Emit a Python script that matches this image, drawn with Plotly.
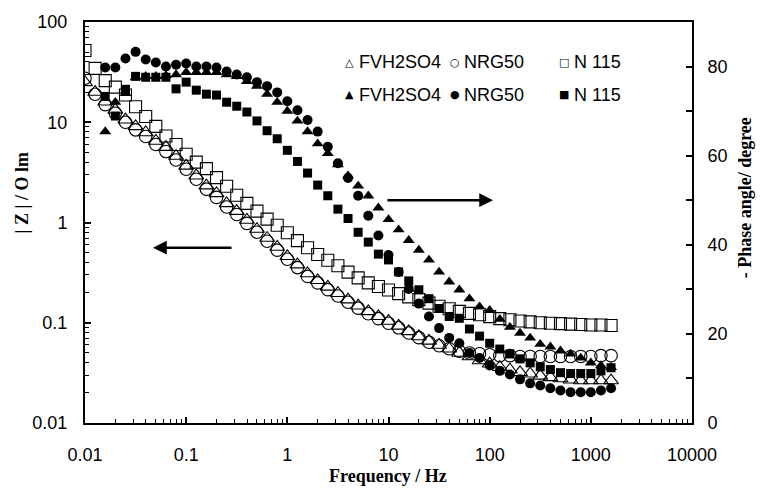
import plotly.graph_objects as go

# ---------------- data ----------------
freq = [0.01, 0.01259, 0.01585, 0.01995, 0.02512, 0.03162, 0.03981, 0.05012, 0.0631, 0.07943,
        0.1, 0.1259, 0.1585, 0.1995, 0.2512, 0.3162, 0.3981, 0.5012, 0.631, 0.7943,
        1.0, 1.259, 1.585, 1.995, 2.512, 3.162, 3.981, 5.012, 6.31, 7.943,
        10, 12.59, 15.85, 19.95, 25.12, 31.62, 39.81, 50.12, 63.1, 79.43,
        100, 125.9, 158.5, 199.5, 251.2, 316.2, 398.1, 501.2, 631.0, 794.3,
        1000, 1259, 1585]

zmod_fvh = [25, 20, 16, 13.3, 10.6, 9.1, 7.9, 6.5, 5.65, 4.6,
            3.67, 2.93, 2.33, 1.95, 1.55, 1.3, 1.06, 0.86, 0.7, 0.57,
            0.46, 0.38, 0.31, 0.265, 0.228, 0.197, 0.17, 0.148, 0.13, 0.116,
            0.104, 0.093, 0.082, 0.073, 0.066, 0.06, 0.055, 0.05, 0.046, 0.042,
            0.039, 0.036, 0.034, 0.032, 0.031, 0.0295, 0.0285, 0.0278, 0.027, 0.0265,
            0.0265, 0.0265, 0.0265]

zmod_nrg = [27.5, 19, 15, 12.3, 10, 8.4, 7.2, 6.0, 5.1, 4.2,
            3.4, 2.7, 2.15, 1.78, 1.43, 1.2, 0.98, 0.8, 0.65, 0.53,
            0.43, 0.355, 0.29, 0.25, 0.214, 0.185, 0.16, 0.14, 0.123, 0.11,
            0.099, 0.089, 0.079, 0.071, 0.064, 0.059, 0.055, 0.052, 0.05, 0.049,
            0.048, 0.047, 0.047, 0.046, 0.046, 0.046, 0.046, 0.046, 0.046, 0.046,
            0.046, 0.047, 0.047]

zmod_n115 = [52, 34.5, 26, 22.4, 18.7, 14.3, 11.4, 9.1, 7.3, 6.0,
             4.8, 4.0, 3.45, 2.8, 2.3, 1.87, 1.55, 1.3, 1.08, 0.94,
             0.79, 0.66, 0.56, 0.48, 0.42, 0.37, 0.32, 0.28, 0.25, 0.23,
             0.212, 0.195, 0.181, 0.17, 0.157, 0.146, 0.138, 0.13, 0.124, 0.12,
             0.115, 0.11, 0.107, 0.104, 0.102, 0.1, 0.099, 0.098, 0.097, 0.096,
             0.095, 0.095, 0.094]

phase_fvh = [None, None, 65.4, 72, 74, 77.5, 77.8, 77.8, 78, 78.2,
             78.7, 78.7, 78.7, 78.7, 78.2, 77.8, 76.7, 75.6, 73.8, 72,
             70, 67.8, 65.4, 62.7, 60.5, 58, 55.5, 53.2, 51, 48.3,
             45.7, 43.4, 41, 38.8, 36.6, 33.9, 31.7, 29.9, 27.9, 26.1,
             25.3, 23.3, 21.5, 20.2, 19.1, 17.7, 17.1, 16.2, 15.5, 14.6,
             13.5, 12.9, 12.5]

phase_nrg = [None, None, 79.8, 79.8, 81.8, 83.3, 81.6, 80.9, 80, 80.4,
             80.7, 80, 80, 79.8, 78.9, 78.2, 77.6, 76.5, 75.6, 74.2,
             72.2, 70.2, 68, 65.4, 62, 58.3, 55, 51, 46.5, 42.1,
             37.7, 33.9, 30.1, 26.8, 23.9, 21.3, 19.1, 17.9, 15.7, 14.6,
             12.9, 11.7, 10.9, 9.8, 8.9, 8.4, 7.8, 7.3, 6.9, 6.9,
             6.9, 7.3, 7.8]

phase_n115 = [None, None, 73.3, 68.9, 74.9, 77.8, 77.6, 77.6, 77.6, 75,
              76.5, 74.7, 73.8, 73.6, 72, 71.1, 69.8, 67.8, 65.6, 63.8,
              61.2, 58.7, 56.1, 53.4, 51, 48, 45.9, 42.8, 40.6, 37.9,
              36.6, 33.9, 31.9, 29.9, 27.9, 25.7, 23.9, 23.5, 21.1, 19.5,
              17.9, 16.6, 15.5, 14.4, 13.5, 12.6, 12, 11.3, 11.1, 11.1,
              11.1, 11.7, 12.4]

x_tickvals = [0.01, 0.1, 1, 10, 100, 1000, 10000]
x_ticktext = ["0.01", "0.1", "1", "10", "100", "1000", "10000"]
y_tickvals = [0.01, 0.1, 1, 10, 100]
y_ticktext = ["0.01", "0.1", "1", "10", "100"]
y2_tickvals = [0, 20, 40, 60, 80]
y2_ticktext = ["0", "20", "40", "60", "80"]
y2_minor = [10, 30, 50, 70]
series_names = ["FVH2SO4", "NRG50", "N 115"]

# ---------------- figure ----------------
SANS = "Liberation Sans, Arial, sans-serif"
SERIF = "Liberation Serif, Times New Roman, serif"
log_minor = [m * 10 ** e for e in range(-2, 4) for m in range(2, 10)]

fig = go.Figure()

open_style = dict(color="black", line=dict(color="black", width=1.1))
fig.add_trace(go.Scatter(x=freq, y=zmod_fvh, mode="markers", name=series_names[0],
                         marker=dict(symbol="triangle-up-open", size=13, **open_style)))
fig.add_trace(go.Scatter(x=freq, y=zmod_nrg, mode="markers", name=series_names[1],
                         marker=dict(symbol="circle-open", size=12.5, **open_style)))
fig.add_trace(go.Scatter(x=freq, y=zmod_n115, mode="markers", name=series_names[2],
                         marker=dict(symbol="square-open", size=12, **open_style)))

filled_style = dict(color="black", line=dict(width=0))
fig.add_trace(go.Scatter(x=freq, y=phase_fvh, mode="markers", yaxis="y2", name=series_names[0],
                         marker=dict(symbol="triangle-up", size=10.5, **filled_style)))
fig.add_trace(go.Scatter(x=freq, y=phase_nrg, mode="markers", yaxis="y2", name=series_names[1],
                         marker=dict(symbol="circle", size=10, **filled_style)))
fig.add_trace(go.Scatter(x=freq, y=phase_n115, mode="markers", yaxis="y2", name=series_names[2],
                         marker=dict(symbol="square", size=9, **filled_style)))

axis_common = dict(showgrid=False, zeroline=False, showline=True, linecolor="black",
                   linewidth=2, ticks="inside", ticklen=6, tickwidth=1.5, tickcolor="black",
                   tickfont=dict(family=SANS, size=18, color="black"))

fig.update_layout(
    width=760, height=496,
    margin=dict(l=85, r=68, t=16, b=73),
    paper_bgcolor="white", plot_bgcolor="white",
    showlegend=False,
    xaxis=dict(type="log", range=[-2, 4], tickmode="array", tickvals=x_tickvals,
               ticktext=x_ticktext, mirror=True, ticklabelstandoff=14,
               minor=dict(ticks="inside", ticklen=4, tickwidth=1.2, tickcolor="black",
                          tickmode="array", tickvals=log_minor, showgrid=False),
               **axis_common),
    yaxis=dict(type="log", range=[-2, 2], tickmode="array", tickvals=y_tickvals,
               ticktext=y_ticktext, ticklabelstandoff=12,
               minor=dict(ticks="inside", ticklen=4, tickwidth=1.2, tickcolor="black",
                          tickmode="array", tickvals=[v for v in log_minor if v < 100],
                          showgrid=False),
               **axis_common),
    yaxis2=dict(overlaying="y", side="right", range=[0, 90], tickmode="array",
                tickvals=y2_tickvals, ticktext=y2_ticktext, ticklabelstandoff=10,
                minor=dict(ticks="inside", ticklen=6, tickwidth=1.5, tickcolor="black",
                           tickmode="array", tickvals=y2_minor, showgrid=False),
                **axis_common),
)

def px_x(p):
    return (p - 85) / 607.0

def px_y(p):
    return (423 - p) / 407.0

annotations = []
# axis titles
annotations.append(dict(text="<b>Frequency / Hz</b>", xref="paper", yref="paper",
                        x=px_x(388), y=px_y(477), xanchor="center", yanchor="middle",
                        showarrow=False, font=dict(family=SERIF, size=18, color="black")))
annotations.append(dict(text="<b>| Z | / O lm</b>", xref="paper", yref="paper",
                        x=px_x(22), y=px_y(190), xanchor="center", yanchor="middle",
                        textangle=-90, showarrow=False,
                        font=dict(family=SERIF, size=18, color="black")))
annotations.append(dict(text="<b>- Phase angle/ degree</b>", xref="paper", yref="paper",
                        x=px_x(745), y=px_y(195), xanchor="center", yanchor="middle",
                        textangle=-90, showarrow=False,
                        font=dict(family=SERIF, size=18, color="black")))

# legend (symbols + labels)
legend_rows = [(57, ["\u25B3", "\u25CB", "\u25A1"]), (90, ["\u25B2", "\u25CF", "\u25A0"])]
sym_x = [349, 455, 564]
txt_x = [357, 462, 572]
for row_y, syms in legend_rows:
    for k in range(3):
        annotations.append(dict(text=syms[k], xref="paper", yref="paper",
                                x=px_x(sym_x[k]), y=px_y(row_y), xanchor="center",
                                yanchor="middle", showarrow=False,
                                font=dict(family="DejaVu Sans", size=11, color="black")))
        annotations.append(dict(text=series_names[k], xref="paper", yref="paper",
                                x=px_x(txt_x[k]), y=px_y(row_y), xanchor="left",
                                yanchor="middle", showarrow=False,
                                font=dict(family=SANS, size=18, color="black")))

# arrows (axis-referenced, log units on log axes)
annotations.append(dict(x=2.033, y=50, xref="x", yref="y2", ax=0.975, ay=50,
                        axref="x", ayref="y2", showarrow=True, arrowhead=2,
                        arrowsize=1.1, arrowwidth=2.5, arrowcolor="black", text=""))
annotations.append(dict(x=-1.328, y=-0.251, xref="x", yref="y", ax=-0.537, ay=-0.251,
                        axref="x", ayref="y", showarrow=True, arrowhead=2,
                        arrowsize=1.1, arrowwidth=2.5, arrowcolor="black", text=""))

fig.update_layout(annotations=annotations)
fig.write_html("out.html")
